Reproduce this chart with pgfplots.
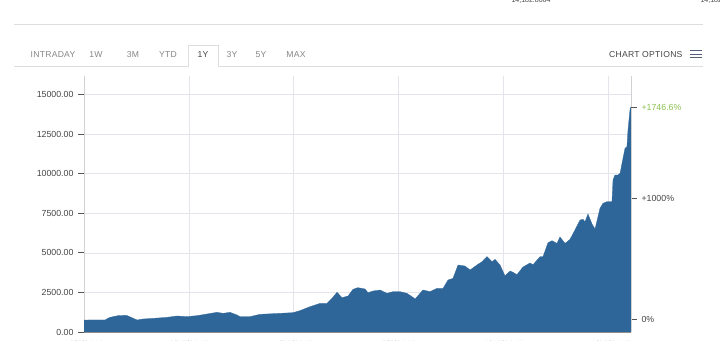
\documentclass[border=0pt]{standalone}
\usepackage{pgfplots}
\pgfplotsset{compat=1.18}
\usepackage{pgfplotstable}
\usepackage{fontspec}
\setmainfont{Liberation Sans}
\newfontfamily\tabfont{Liberation Sans}[LetterSpace=3]
\definecolor{areablue}{HTML}{2F6699}
\definecolor{gridc}{HTML}{E4E4EC}
\definecolor{tickc}{HTML}{555555}
\definecolor{labc}{HTML}{444444}
\definecolor{pctgreen}{HTML}{8CC152}
\definecolor{tabgray}{HTML}{858585}
\definecolor{lineg}{HTML}{DEDEDE}
\definecolor{menuc}{HTML}{55607A}

\pgfplotstableread{
day value
0 758
14.0 760
17.3 927
22.7 1032
27.4 1053
28.7 1040
35.4 758
39.4 821
46.0 860
55.4 927
62.1 1011
68.7 970
75.4 1032
82.1 1137
88.7 1243
92.8 1180
97.4 1243
102.1 1075
104.1 970
110.8 970
117.4 1116
130.8 1180
139.5 1222
144.1 1348
150.8 1601
157.5 1812
162.1 1812
165.5 2128
168.8 2507
172.2 2170
176.2 2275
179.5 2697
182.8 2802
187.5 2718
189.5 2485
192.9 2590
197.5 2654
202.2 2444
206.2 2549
210.9 2549
215.5 2444
219.5 2191
220.9 2085
226.2 2654
230.9 2549
235.6 2760
239.6 2760
242.9 3286
246.2 3390
249.6 4234
254.2 4170
257.6 3918
262.2 4234
265.6 4444
268.9 4760
272.3 4444
274.3 4590
277.6 4234
280.9 3550
284.3 3855
286.3 3770
288.9 3623
292.9 4107
297.6 4360
299.6 4250
304.3 4760
306.3 4760
309.6 5645
312.3 5770
315.6 5600
317.6 6003
321.0 5600
324.3 5855
327.6 6446
331.0 7078
333.0 7120
334.3 6970
336.3 7457
339.0 6820
341.0 6510
344.3 7816
346.3 8131
349.0 8237
352.3 8237
353.0 9606
354.3 9922
356.3 9922
357.7 10027
359.0 10660
361.0 11607
362.3 11712
363.0 12766
364.3 14030
365.0 14240
}\btcdata

\begin{document}
\begin{tikzpicture}[x=1pt,y=1pt]
\path[use as bounding box] (0,0) rectangle (720,340);
\clip (0,0) rectangle (720,340);
% header
\node[anchor=base, text=labc, font=\fontsize{7}{8}\selectfont] at (531,337.5) {14,182.8664};
\node[anchor=base, text=labc, font=\fontsize{7}{8}\selectfont] at (720,337.5) {14,182.8664};
\draw[lineg, line width=0.8pt] (14,316) -- (703,316);
\draw[lineg, line width=0.8pt] (14,273.3) -- (188,273.3) -- (188,295) -- (218,295) -- (218,273.3) -- (703,273.3);
\begin{scope}[every node/.style={anchor=base, text=tabgray, font=\tabfont\fontsize{8.6}{10}\selectfont}]
\node at (53,282.5) {INTRADAY};
\node at (96,282.5) {1W};
\node at (133,282.5) {3M};
\node at (168,282.5) {YTD};
\node[text=labc] at (203,282.5) {1Y};
\node at (232,282.5) {3Y};
\node at (261,282.5) {5Y};
\node at (296,282.5) {MAX};
\end{scope}
\node[anchor=base east, text=labc, font=\tabfont\fontsize{8.6}{10}\selectfont] at (686,282.5) {CHART OPTIONS};
\draw[menuc, line width=0.9pt] (690,289.5) -- (702,289.5) (690,286) -- (702,286) (690,282.5) -- (702,282.5);

% main axis
\begin{axis}[
  at={(84pt,8pt)}, anchor=south west,
  scale only axis, width=547pt, height=256pt,
  xmin=0, xmax=365, ymin=0, ymax=16180,
  axis x line*=bottom, axis y line*=left,
  x axis line style={draw=black!45, line width=0.8pt, -},
  y axis line style={draw=black!18, line width=0.6pt, -},
  xtick={0,70,140,210,280,350},
  xticklabels={12/7/2016,2/15/2017,4/26/2017,7/5/2017,9/13/2017,11/22/2017},
  ytick={0,2500,...,15000},
  scaled y ticks=false,
  tick align=outside,
  major tick length=6pt,
  xtick style={draw=none},
  ytick style={draw=tickc, line width=0.8pt},
  grid=major,
  major grid style={draw=gridc, line width=0.7pt},
  tick label style={font=\fontsize{8.8}{10}\selectfont, text=labc},
  yticklabel style={xshift=-1pt},
  yticklabel={\pgfmathprintnumber[fixed, fixed zerofill, precision=2, 1000 sep={}, assume math mode=true]{\tick}},
]
\addplot[fill=areablue, draw=areablue, line width=0.3pt] table[x=day, y=value] {\btcdata} \closedcycle;
\end{axis}

% percent axis
\begin{axis}[
  at={(84pt,8pt)}, anchor=south west,
  scale only axis, width=547pt, height=256pt,
  xmin=0, xmax=365, ymin=-100, ymax=2001.3,
  axis x line=none, axis y line*=right,
  y axis line style={draw=black!18, line width=0.6pt, -},
  ytick={0,1000}, yticklabels={0\%,+1000\%},
  extra y ticks={1746.6}, extra y tick labels={+1746.6\%},
  extra y tick style={yticklabel style={text=pctgreen}},
  tick align=outside,
  major tick length=6pt,
  ytick style={draw=tickc, line width=0.8pt},
  tick label style={font=\fontsize{8.8}{10}\selectfont, text=labc},
  yticklabel style={xshift=1pt},
]
\end{axis}
\end{tikzpicture}
\end{document}
